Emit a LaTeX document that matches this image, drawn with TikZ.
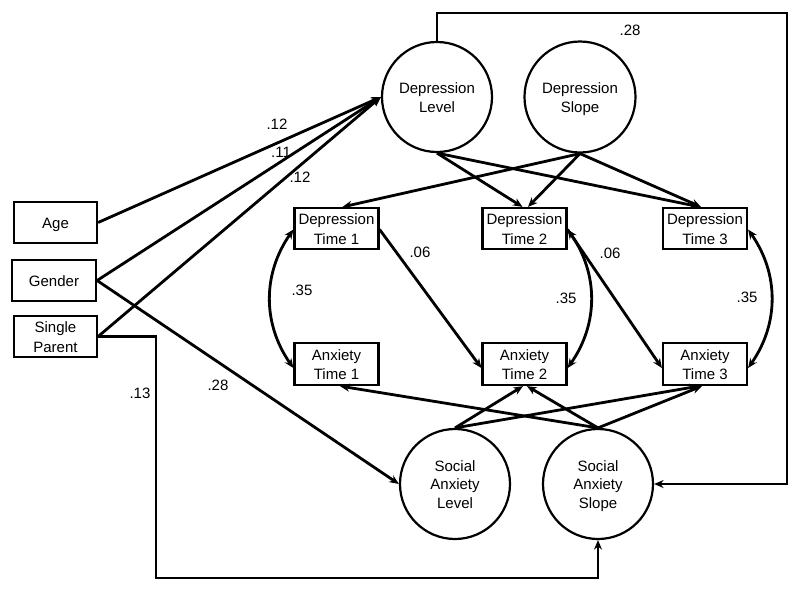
\documentclass[tikz,border=0pt]{standalone}
\usepackage{fontspec}
\setmainfont{Liberation Sans}
\usetikzlibrary{arrows.meta}
\newcommand{\sline}[1]{\rule[-3pt]{0pt}{18pt}#1}
\begin{document}
\begin{tikzpicture}[x=1pt,y=-1pt,
  every node/.style={font=\fontsize{15}{18}\selectfont},
  obsbox/.style={draw, line width=2.2pt, minimum width=84pt, minimum height=41pt, inner sep=0pt, align=center},
  latent/.style={draw, circle, line width=2.2pt, minimum size=110pt, inner sep=0pt, align=center},
  arr/.style={line width=2.8pt, -{Stealth[length=9.5pt,width=8pt]}},
  darr/.style={line width=2.8pt, {Stealth[length=9.5pt,width=8pt]}-{Stealth[length=9.5pt,width=8pt]}},
  lbl/.style={inner sep=0pt}
]
\useasboundingbox (0,0) rectangle (800,592);
\fill[white] (0,0) rectangle (800,592);

% observed covariates
\node[obsbox, minimum width=83pt] (age) at (55.5,222.5) {\sline{Age}};
\node[obsbox] (gen) at (54,280.5) {\sline{Gender}};
\node[obsbox, minimum width=83pt] (sp) at (55.5,336.5) {\sline{Single}\\\sline{Parent}};

% latent factors
\node[latent] (dl) at (437,97) {\sline{Depression}\\\sline{Level}};
\node[latent, minimum size=111pt] (ds) at (580,97) {\sline{Depression}\\\sline{Slope}};
\node[latent] (sal) at (455,484) {\sline{Social}\\\sline{Anxiety}\\\sline{Level}};
\node[latent] (sas) at (598,484) {\sline{Social}\\\sline{Anxiety}\\\sline{Slope}};

% indicators
\node[obsbox] (d1) at (336.5,228.5) {\sline{Depression}\\\sline{Time 1}};
\node[obsbox] (d2) at (524.5,228.5) {\sline{Depression}\\\sline{Time 2}};
\node[obsbox] (d3) at (705,228.5) {\sline{Depression}\\\sline{Time 3}};
\node[obsbox, minimum height=42pt] (a1) at (336.5,364) {\sline{Anxiety}\\\sline{Time 1}};
\node[obsbox, minimum height=42pt] (a2) at (524.5,364) {\sline{Anxiety}\\\sline{Time 2}};
\node[obsbox, minimum height=42pt] (a3) at (705,364) {\sline{Anxiety}\\\sline{Time 3}};

% covariate paths
\draw[arr] (age.east) -- (dl.west);
\draw[arr] (gen.east) -- (dl.west);
\draw[arr] (sp.east) -- (dl.west);
\draw[arr] (gen.east) -- (sal.west);
\coordinate (c2) at (156,578);
\draw[arr] (sp.east) -| (c2) -| (sas.south);
\coordinate (c1) at (787,13);
\draw[arr] (dl.north) |- (c1) |- (sas.east);

% depression growth loadings
\draw[arr] (dl.south) -- ([xshift=-2pt]d2.north);
\draw[arr] (dl.south) -- ([xshift=-5pt]d3.north);
\draw[arr] (ds.south) -- ([xshift=6pt]d1.north);
\draw[arr] (ds.south) -- ([xshift=3.5pt]d2.north);
\draw[arr] (ds.south) -- ([xshift=-4pt]d3.north);

% social anxiety growth loadings
\draw[arr] (sal.north) -- ([xshift=-1.5pt]a2.south);
\draw[arr] (sal.north) -- ([xshift=-6pt]a3.south);
\draw[arr] (sas.north) -- ([xshift=3.5pt]a1.south);
\draw[arr] (sas.north) -- ([xshift=2.5pt]a2.south);
\draw[arr] (sas.north) -- ([xshift=-3pt]a3.south);

% cross-lagged paths
\draw[arr] ([yshift=-1pt]d1.east) -- ([yshift=-4pt]a2.west);
\draw[arr] ([yshift=-1pt]d2.east) -- ([yshift=-4pt]a3.west);

% covariances
\draw[darr] ([yshift=-1pt]d1.west) to[bend right=35] ([yshift=-4pt]a1.west);
\draw[darr] ([yshift=-1pt]d2.east) to[bend left=35] ([yshift=-4pt]a2.east);
\draw[darr] ([yshift=-1pt]d3.east) to[bend left=35] ([yshift=-4pt]a3.east);

% labels
\node[lbl] (l1) at (277,124) {.12};
\node[lbl] (l2) at (281,152) {.11};
\node[lbl] (l3) at (300,177) {.12};
\node[lbl] (l4) at (302,290) {.35};
\node[lbl] (l5) at (566,298) {.35};
\node[lbl] (l6) at (747,297) {.35};
\node[lbl] (l7) at (420,252) {.06};
\node[lbl] (l8) at (610,253) {.06};
\node[lbl] (l9) at (630,30) {.28};
\node[lbl] (l10) at (140,393) {.13};
\node[lbl] (l11) at (218,385) {.28};
\end{tikzpicture}
\end{document}
